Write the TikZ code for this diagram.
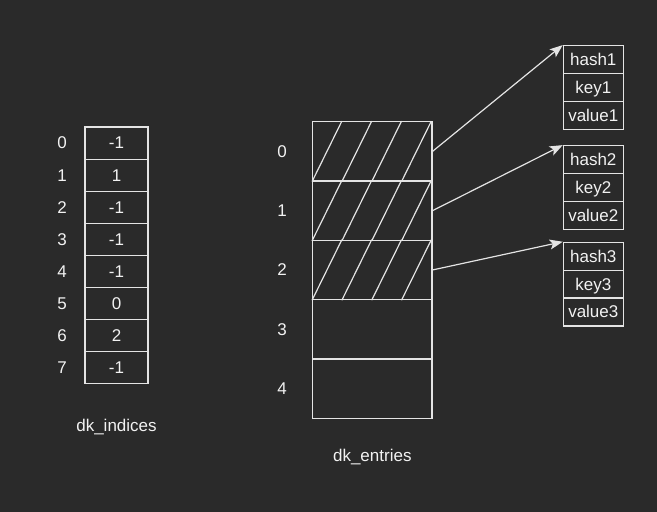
\documentclass[tikz,border=0pt]{standalone}
\usepackage{fontspec}
\setmainfont{Liberation Sans}
\usepackage{tikz}
\usetikzlibrary{positioning,arrows.meta}
\definecolor{bgcol}{HTML}{2A2A2A}
\definecolor{linecol}{HTML}{E4E4E4}
\definecolor{txtcol}{HTML}{F2F2F2}

\begin{document}
\begin{tikzpicture}[on grid, line width=1.2pt,
  every node/.style={text=txtcol, font=\fontsize{17}{19}\selectfont, text height=12.2pt, text depth=0.4pt},
  cell/.style={draw=linecol, rectangle, inner sep=0pt, minimum width=63pt, minimum height=32.1pt},
  slot/.style={draw=linecol, rectangle, inner sep=0pt, minimum width=119.3pt, minimum height=59.3pt},
  field/.style={draw=linecol, rectangle, inner sep=0pt, minimum width=60pt, minimum height=27.87pt},
  ptr/.style={draw=linecol, -{Stealth[length=13pt,width=10pt,inset=3pt]}}]
\useasboundingbox[fill=bgcol] (0,0) rectangle (657pt,-512pt);

% dk_indices
\node [cell] (idx0) at (116.5pt,-143.05pt) {-1};
\node [cell, node distance=32.1pt] (idx1) [below = of idx0] {1};
\node [cell, node distance=32.1pt] (idx2) [below = of idx1] {-1};
\node [cell, node distance=32.1pt] (idx3) [below = of idx2] {-1};
\node [cell, node distance=32.1pt] (idx4) [below = of idx3] {-1};
\node [cell, node distance=32.1pt] (idx5) [below = of idx4] {0};
\node [cell, node distance=32.1pt] (idx6) [below = of idx5] {2};
\node [cell, node distance=32.1pt] (idx7) [below = of idx6] {-1};
\foreach \i in {0,...,7}
  \node (n\i) [left = 54.5pt of idx\i] {\i};
\node (indices) [below = 58.2pt of idx7] {dk\_indices};

% dk_entries
\node [slot] (ent0) at (372.3pt,-151.35pt) {};
\node [slot, node distance=59.3pt] (ent1) [below = of ent0] {};
\node [slot, node distance=59.3pt] (ent2) [below = of ent1] {};
\node [slot, node distance=59.3pt] (ent3) [below = of ent2] {};
\node [slot, node distance=59.3pt] (ent4) [below = of ent3] {};
\foreach \i in {0,...,4}
  \node (m\i) [left = 90.3pt of ent\i] {\i};
\node (entries) [below = 67.5pt of ent4] {dk\_entries};

% hatching of the used slots
\foreach \r in {0,1,2}
  \foreach \i in {0,...,3}
    \draw [linecol] ([xshift=\i*29.825pt]ent\r.south west) -- ([xshift=(\i+1)*29.825pt]ent\r.north west);

% entries
\node [field] (hash1) at (593.3pt,-59.6pt) {hash1};
\node [field, node distance=27.87pt] (key1) [below = of hash1] {key1};
\node [field, node distance=27.87pt] (value1) [below = of key1] {value1};
\node [field] (hash2) [below = 44.3pt of value1] {hash2};
\node [field, node distance=27.87pt] (key2) [below = of hash2] {key2};
\node [field, node distance=27.87pt] (value2) [below = of key2] {value2};
\node [field] (hash3) [below = 40.9pt of value2] {hash3};
\node [field, node distance=27.87pt] (key3) [below = of hash3] {key3};
\node [field, node distance=27.87pt] (value3) [below = of key3] {value3};

\draw [ptr] (ent0.east) -- (hash1.north west);
\draw [ptr] (ent1.east) -- (hash2.north west);
\draw [ptr] (ent2.east) -- (hash3.north west);
\end{tikzpicture}
\end{document}
